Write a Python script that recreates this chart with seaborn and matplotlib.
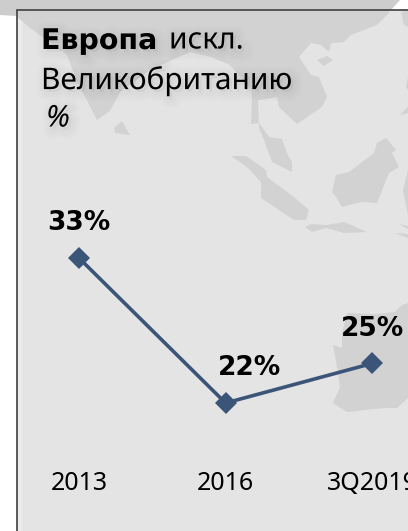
import matplotlib
matplotlib.use("Agg")
import pandas as pd
import seaborn as sns
from matplotlib import pyplot as plt
from matplotlib import patheffects as pe
from matplotlib.patches import Polygon, Rectangle

periods = ["2013", "2016", "3Q2019"]
shares = [33, 22, 25]
share_labels = ["33%", "22%", "25%"]

W, H = 408, 531
LAND = "#d2d2d2"
PANEL = "#e4e4e4"
NAVY = "#3a5578"

# фоновая карта, координаты в пикселях картинки
asia = [(18, 18), (34, 31), (67, 55), (77, 81), (97, 120), (110, 111), (120, 92), (150, 70), (190, 52),
        (211, 57), (230, 65), (251, 90), (252, 100), (261, 100), (277, 97), (279, 107), (297, 124), (322, 107),
        (327, 97), (319, 77), (311, 75), (299, 57), (311, 43), (321, 45), (329, 52), (331, 43), (344, 42),
        (351, 35), (377, 25), (389, 13), (389, 10), (18, 10)]
malay = [(252, 100), (251, 124), (259, 123), (269, 137), (282, 139), (287, 153), (292, 162), (292, 172),
         (272, 162), (264, 140), (259, 128), (258, 100)]
sumatra = [(231, 156), (246, 156), (266, 170), (267, 177), (294, 197), (309, 210), (306, 220), (294, 220),
           (261, 198), (261, 182), (247, 167)]
java = [(305, 227), (311, 224), (327, 225), (344, 222), (367, 232), (344, 233), (326, 228), (312, 232)]
borneo = [(332, 192), (336, 175), (349, 172), (374, 153), (377, 143), (386, 138), (396, 150), (392, 153),
          (399, 167), (389, 173), (377, 203), (361, 202), (342, 207), (336, 197)]
hainan = [(317, 60), (327, 56), (333, 60), (324, 66)]
sri_lanka = [(122, 121), (130, 135), (115, 133), (114, 128)]
taiwan = [(401, 12), (408, 10), (408, 27), (404, 25)]
philippines = [(408, 77), (406, 87), (408, 90)]
philippines_south = [(400, 115), (408, 107), (408, 113)]
sulawesi = [(408, 170), (403, 190), (408, 215)]
timor = [(399, 224), (408, 226), (408, 229)]
flores = [(395, 233), (408, 234), (408, 238)]
australia = [(333, 345), (342, 348), (342, 333), (347, 313), (375, 314), (395, 312), (402, 305), (408, 303),
             (408, 398), (397, 408), (384, 408), (347, 412), (333, 403), (340, 387), (337, 367)]
land_shapes = [asia, malay, sumatra, java, borneo, hainan, sri_lanka, taiwan, philippines,
               philippines_south, sulawesi, timor, flores, australia]

sns.set_theme(style="white")
plt.rcParams["font.family"] = ["Noto Sans", "DejaVu Sans"]

fig = plt.figure(figsize=(W / 100, H / 100), dpi=100, facecolor="white")
bg = fig.add_axes([0, 0, 1, 1], zorder=0)
bg.set_xlim(0, W)
bg.set_ylim(H, 0)
bg.axis("off")
bg.add_patch(Polygon([(0, 0), (400, 0), (391, 10), (17, 10), (17, 16), (0, 15)], color="#cdcdcd", lw=0))
bg.add_patch(Rectangle((17, 10), W - 17, H - 10, color=PANEL, lw=0))
bg.add_patch(Rectangle((18, 11), 4, H, color="#ececec", lw=0))
for shape in land_shapes:
    bg.add_patch(Polygon(shape, color=LAND, lw=0))
bg.plot([17, 17, W], [H, 10, 10], color="#404040", lw=1.2, solid_joinstyle="miter")

# верх осей на y=0, низ на y=440 px, так подписи оси попадают на 481 px
ax = fig.add_axes([0, 1 - 440 / H, 1, 440 / H], zorder=1)
ax.patch.set_alpha(0)
df = pd.DataFrame({"period": periods, "share": shares})
sns.lineplot(data=df, x="period", y="share", ax=ax, color=NAVY, lw=2.6, marker="D", markersize=11,
             markeredgewidth=0, sort=False, errorbar=None)
ax.set_xlim(-0.539, 2.245)
ax.set_ylim(22 - 37 / 13.18, 22 + 403 / 13.18)
ax.set_yticks([])
ax.set_xlabel("")
ax.set_ylabel("")
ax.tick_params(axis="x", length=0, pad=22, labelsize=18, labelcolor="black")
sns.despine(ax=ax, left=True, bottom=True)

# у Noto Sans здесь нет жирного начертания, жирный текст идет в DejaVu Sans
label_dx = [0, 17, 0]
for i, (v, lab) in enumerate(zip(shares, share_labels)):
    ax.annotate(lab, (i, v), xytext=(label_dx[i], 25), textcoords="offset points", ha="center", va="center",
                fontsize=19, fontweight="bold", color="black", family="DejaVu Sans")

# размытая тень под заголовком
shadow = [pe.Stroke(linewidth=w, foreground="black", alpha=0.012, offset=(2, -2)) for w in (13, 9, 5)] + [pe.Normal()]
for x, y, txt, kw in [(41, 41, "Европа", {"fontsize": 20.5, "fontweight": "bold", "family": "DejaVu Sans"}),
                      (169, 41, "искл.", {"fontsize": 21.5}),
                      (41, 81, "Великобританию", {"fontsize": 21.5}),
                      (46, 119, "%", {"fontsize": 21.5, "style": "italic"})]:
    fig.text(x / W, 1 - y / H, txt, color="black", va="center", path_effects=shadow, **kw)

fig.savefig("out.png", dpi=100)
